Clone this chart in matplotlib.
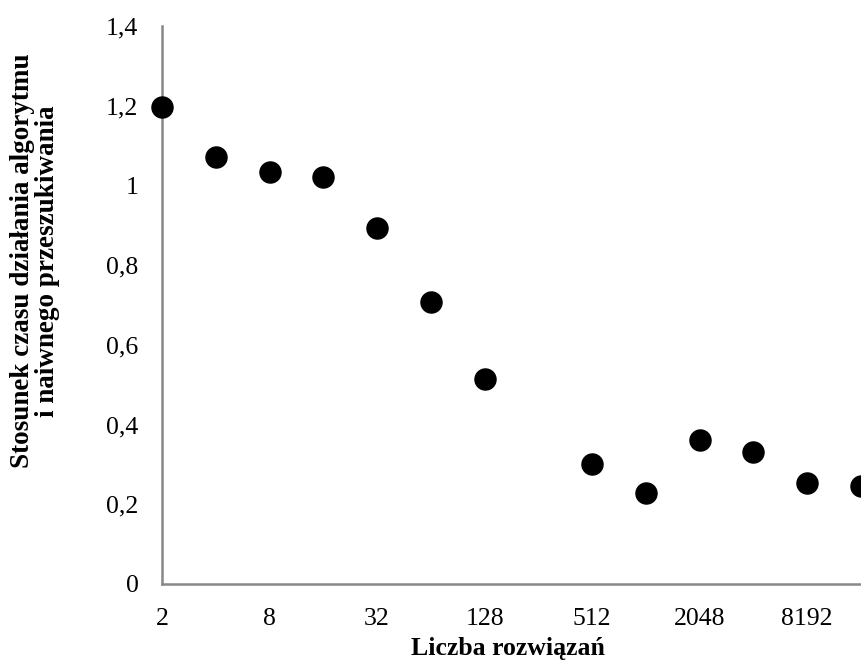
import matplotlib
matplotlib.use("Agg")
import matplotlib.pyplot as plt

# number of solutions (log2 scale) and time ratio algorithm / naive search
solutions = [2, 4, 8, 16, 32, 64, 128, 512, 1024, 2048, 4096, 8192, 16384]
ratio = [1.197, 1.071, 1.034, 1.021, 0.893, 0.707, 0.514,
         0.301, 0.228, 0.361, 0.331, 0.253, 0.246]

x_ticks = [2, 8, 32, 128, 512, 2048, 8192]
y_ticks = [0, 0.2, 0.4, 0.6, 0.8, 1.0, 1.2, 1.4]
y_tick_labels = ["0", "0,2", "0,4", "0,6", "0,8", "1", "1,2", "1,4"]

plt.rcParams["font.family"] = ["Liberation Serif", "DejaVu Serif"]

fig = plt.figure(figsize=(8.61, 6.69), dpi=100)
ax = fig.add_axes([162 / 861, 1 - 584 / 669, 1 - 162 / 861, (584 - 26) / 669])

ax.scatter(solutions, ratio, s=230, color="black", zorder=3, clip_on=False)

ax.set_xscale("log", base=2)
ax.set_xlim(2, 16384)
ax.set_ylim(0, 1.4)
ax.set_xticks(x_ticks)
ax.set_xticklabels([str(v) for v in x_ticks])
ax.minorticks_off()
ax.set_yticks(y_ticks)
ax.set_yticklabels(y_tick_labels)
ax.tick_params(axis="both", length=0, labelsize=18.5)
ax.tick_params(axis="y", pad=17)
ax.tick_params(axis="x", pad=17)

for side in ("top", "right"):
    ax.spines[side].set_visible(False)
for side in ("left", "bottom"):
    ax.spines[side].set_color("#888888")
    ax.spines[side].set_linewidth(1.8)

fig.text(508 / 861, 1 - 649 / 669, "Liczba rozwiązań", ha="center", va="center",
         fontsize=18.5, fontweight="bold")
fig.text(35 / 861, 1 - 261 / 669,
         "Stosunek czasu działania algorytmu\ni naiwnego przeszukiwania",
         ha="center", va="center", rotation=90, fontsize=19.5, fontweight="bold",
         linespacing=1.0)

fig.savefig("out.png", dpi=100)
